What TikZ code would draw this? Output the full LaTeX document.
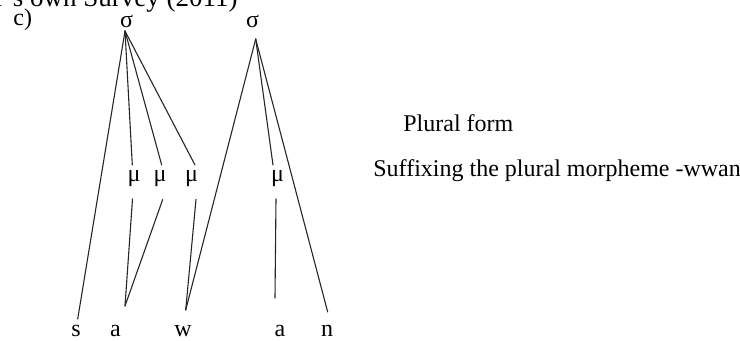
\documentclass[tikz,border=0pt]{standalone}
\usepackage{fontspec}
\setmainfont{Liberation Serif}
\begin{document}
\begin{tikzpicture}[x=0.5pt,y=-0.5pt,
  txt/.style={inner sep=0pt, anchor=base, font=\fontsize{12pt}{14pt}\selectfont},
  link/.style={line width=0.55pt, black!85, line cap=round}]
\useasboundingbox (0,0) rectangle (740,341);

% clipped caption at the top
\node[txt, anchor=base east, font=\fontsize{13.5pt}{16pt}\selectfont] (src) at (238,6.5) {r’s own Survey (2011)};
\node[txt, anchor=base west] (lbl) at (13,25.5) {c)};

% syllables
\node[txt] (sig1) at (126.5,28) {σ};
\node[txt] (sig2) at (252.5,28) {σ};

% moras
\node[txt] (mu1) at (134,182) {μ};
\node[txt] (mu2) at (160,182) {μ};
\node[txt] (mu3) at (191.5,182) {μ};
\node[txt] (mu4) at (277.5,182) {μ};

% segments
\node[txt] (s)  at (76,336.5)  {s};
\node[txt] (a1) at (115.5,336.5) {a};
\node[txt] (w)  at (183,336.5) {w};
\node[txt] (a2) at (280,336.5) {a};
\node[txt] (n)  at (327,336.5) {n};

% side labels
\node[txt, anchor=base west] (plural) at (403,131.5) {Plural form};
\node[txt, anchor=base west] (suffix) at (373,177) {Suffixing the plural morpheme -wwan};

% attachment points
\coordinate (sig1-b) at (125,31);
\coordinate (sig2-b) at (255.7,39);
\coordinate (mu1-t) at (132.3,165);
\coordinate (mu2-t) at (161.7,165);
\coordinate (mu3-t) at (195,165);
\coordinate (mu4-t) at (273,165);
\coordinate (mu1-b) at (132.5,199);
\coordinate (mu2-b) at (162.7,199.5);
\coordinate (mu3-b) at (196,199.5);
\coordinate (mu4-b) at (276,199);
\coordinate (s-t)  at (77.7,319);
\coordinate (a1-t) at (125,306);
\coordinate (w-t)  at (185.7,310);
\coordinate (a2-t) at (275,298);
\coordinate (n-t)  at (327.7,312);

% association lines
\draw[link] (sig1-b) -- (s-t);
\draw[link] (sig1-b) -- (mu1-t);
\draw[link] (sig1-b) -- (mu2-t);
\draw[link] (sig1-b) -- (mu3-t);
\draw[link] (sig2-b) -- (w-t);
\draw[link] (sig2-b) -- (mu4-t);
\draw[link] (sig2-b) -- (n-t);
\draw[link] (mu1-b) -- (a1-t);
\draw[link] (mu2-b) -- (a1-t);
\draw[link] (mu3-b) -- (w-t);
\draw[link] (mu4-b) -- (a2-t);
\end{tikzpicture}
\end{document}
